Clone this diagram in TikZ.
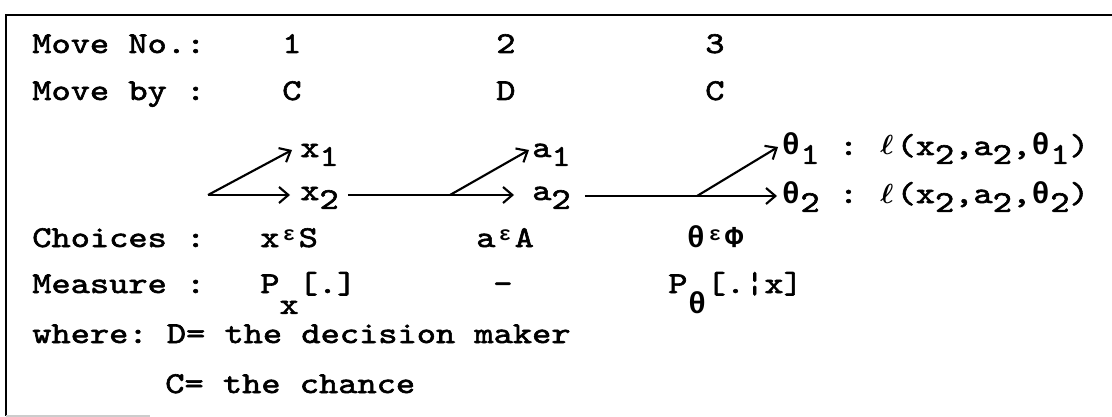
\documentclass[tikz,border=0pt]{standalone}
\usepackage{fontspec}
\usetikzlibrary{arrows.meta, positioning, calc}
\newfontfamily\typer[FakeStretch=1.21, FakeBold=2]{lmmono10-regular.otf}
\newfontfamily\greek{Liberation Mono}
\newcommand\cell[1]{\makebox[14.4pt]{#1}}
\newcommand\gk[1]{\cell{\greek\bfseries #1}}
\newcommand\dn[1]{\raisebox{-6.7pt}{#1}}
\newcommand\dnn[1]{\raisebox{-15.7pt}{#1}}
\newcommand\elt{\cell{\raisebox{5pt}{\greek\bfseries\fontsize{15pt}{15pt}\selectfont ε}}}
\newcommand\ellc{\cell{\boldmath$\ell$}}
\tikzset{
  txt/.style={font=\frenchspacing\typer\fontsize{22.7pt}{28pt}\selectfont,
              anchor=base west, inner sep=0pt},
  wire/.style={line width=1.6pt},
  flow/.style={-{Straight Barb[length=7pt, width=12pt, line width=1.6pt]}, line width=1.6pt},
  frame/.style={line width=1.5pt}
}

\begin{document}
\begin{tikzpicture}[x=0.75pt, y=-0.75pt]
  \useasboundingbox (0,0) rectangle (1112,417);
  % frame
  \draw[frame] (1112,15) -- (6,15) -- (6,416);
  \draw[frame, gray!40, line width=1pt] (6,416) -- (150,416);
  % header rows
  \node[txt] (lblNo) at (32,53) {Move No.:};
  \node[txt] (n1) at (282,53) {1};
  \node[txt] (n2) at (496,53) {2};
  \node[txt] (n3) at (705,53) {3};
  \node[txt] (lblBy) at (32,100) {Move by :};
  \node[txt] (by1) at (282,100) {C};
  \node[txt] (by2) at (496,100) {D};
  \node[txt] (by3) at (705,100) {C};
  % tree
  \node[txt] (x1) at (300,157) {x\dn{1}};
  \node[txt] (x2) at (300,200) {x\dn{2}};
  \node[txt] (a1) at (532,157) {a\dn{1}};
  \node[txt] (a2) at (532,200) {a\dn{2}};
  \node[txt] (th1) at (781,155) {\gk{θ}\dn{1} : \ellc(x\dn{2},a\dn{2},\gk{θ}\dn{1})};
  \node[txt] (th2) at (781,203) {\gk{θ}\dn{2} : \ellc(x\dn{2},a\dn{2},\gk{θ}\dn{2})};
  \coordinate (b1) at (208,195);
  \coordinate (b2) at (450,195);
  \coordinate (b3) at (697,196);
  \coordinate (x1tip) at ($(x1.base west)+(-8,-7)$);
  \coordinate (x2tip) at ($(x2.base west)+(-10,-5)$);
  \coordinate (a1tip) at ($(a1.base west)+(-3,-7)$);
  \coordinate (a2tip) at ($(a2.base west)+(-18,-5)$);
  \coordinate (th1tip) at ($(th1.base west)+(-3,-8)$);
  \coordinate (th2tip) at ($(th2.base west)+(-4,-7)$);
  \draw[wire] (x2.base east |- b2) ++(9,0) -- (b2);
  \draw[wire] (a2.base east |- b3) ++(14,0) -- (b3);
  \foreach \a/\b in {b1/x1tip, b1/x2tip, b2/a1tip, b2/a2tip, b3/th1tip, b3/th2tip}
    \draw[flow] (\a) -- (\b);
  % choices and measures
  \node[txt] (lblChoice) at (32,247) {Choices :};
  \node[txt] (ch1) at (260,247) {x\elt S};
  \node[txt] (ch2) at (476,247) {a\elt A};
  \node[txt] (ch3) at (686,247) {\gk{θ}\elt \gk{Φ}};
  \node[txt] (lblMeasure) at (32,293) {Measure :};
  \node[txt] (ms1) at (260,293) {P\dnn{x}[.]};
  \node[txt] (ms2) at (493,293) {-};
  \node[txt] (ms3) at (668,293) {P\dnn{\gk{θ}}[.¦x]};
  % legend
  \node[txt] (lblWhere) at (32,343) {where: D= the decision maker};
  \node[txt] (lblC) at (165,393) {C= the chance};
\end{tikzpicture}
\end{document}
